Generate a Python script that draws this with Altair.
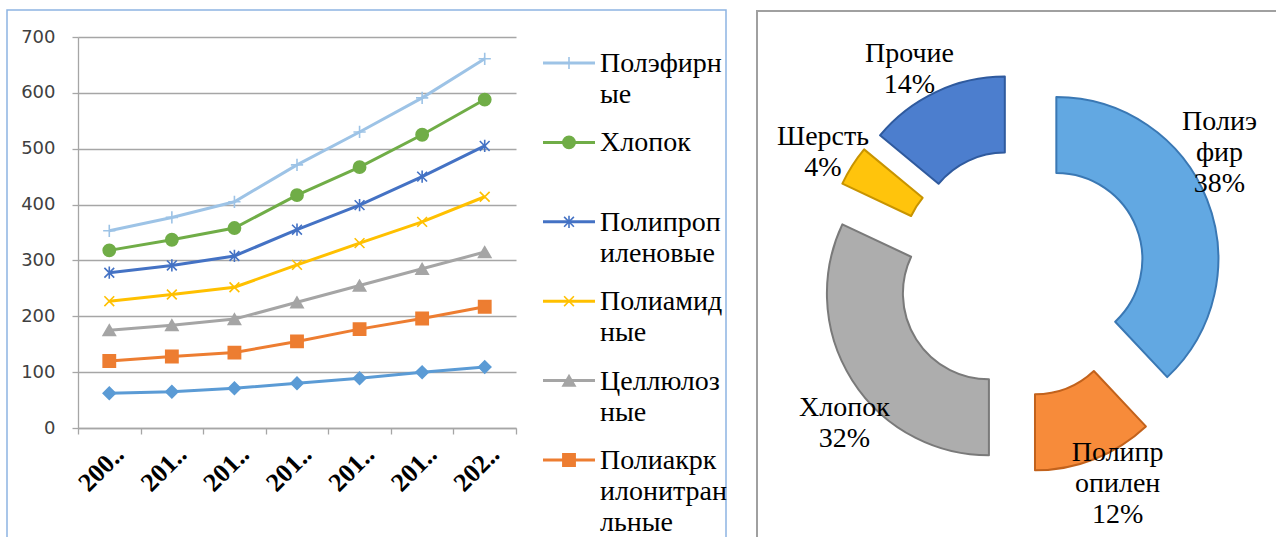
import altair as alt
import pandas as pd

# ---------------- data ----------------
years = ["2008", "2010", "2012", "2014", "2016", "2018", "2020"]

series_names = ["Полэфирные", "Хлопок", "Полипропиленовые", "Полиамидные",
                "Целлюлозные", "Полиакркилонитранльные", "Шерстяные"]
legend_labels = ["Полэфирн\nые", "Хлопок", "Полипроп\nиленовые", "Полиамид\nные",
                 "Целлюлоз\nные", "Полиакрк\nилонитран\nльные"]

polyester = [353, 377, 405, 471, 530, 591, 661]
cotton = [318, 337, 358, 417, 467, 525, 588]
polypropylene = [278, 291, 308, 355, 399, 450, 505]
polyamide = [227, 239, 252, 292, 331, 369, 414]
cellulose = [175, 184, 195, 225, 255, 285, 315]
polyacryl = [120, 128, 135, 155, 177, 196, 217]
wool = [62, 65, 71, 80, 89, 100, 109]
series_values = [polyester, cotton, polypropylene, polyamide, cellulose, polyacryl, wool]

series_colors = ["#9DC3E6", "#70AD47", "#4472C4", "#FFC000", "#A5A5A5", "#ED7D31", "#5B9BD5"]
PLUS = "M-1,0L1,0M0,-1L0,1"
XMARK = "M-0.8,-0.8L0.8,0.8M-0.8,0.8L0.8,-0.8"
STAR = "M-0.8,-0.8L0.8,0.8M-0.8,0.8L0.8,-0.8M0,-1L0,1"
series_shapes = [PLUS, "circle", STAR, XMARK, "triangle-up", "square", "diamond"]

pie_names = ["Полиэфир", "Полипропилен", "Хлопок", "Шерсть", "Прочие"]
pie_wrapped = ["Полиэ\nфир", "Полипр\nопилен", "Хлопок", "Шерсть", "Прочие"]
pie_values = [38, 12, 32, 4, 14]
pie_colors = ["#62A8E2", "#F78B3A", "#ADADAD", "#FFC40C", "#4C7ECE"]
pie_edges = ["#3A78B4", "#C2621C", "#7A7A7A", "#C89400", "#2F5A9E"]

# ---------------- tables ----------------
line_df = pd.DataFrame([
    {"year": y, "series": s, "value": v}
    for s, vals in zip(series_names, series_values)
    for y, v in zip(years, vals)
])
# legend rows that fit in the panel (the last entry falls below the visible area)
leg_df = pd.DataFrame({"series": series_names[:len(legend_labels)], "label": legend_labels})
pie_labels_txt = [w + "\n" + f"{v}%" for w, v in zip(pie_wrapped, pie_values)]
pie_df = pd.DataFrame({
    "order": list(range(len(pie_names))),
    "name": pie_names,
    "value": pie_values,
    "label": pie_labels_txt,
    "nlines": [t.count("\n") + 1 for t in pie_labels_txt],
})
one = pd.DataFrame({"k": [0]})

GRAY = "#A6A6A6"
SERIF = "Liberation Serif"
LH = 31
FS = 28

color_enc = alt.Color("series:N", scale=alt.Scale(domain=series_names, range=series_colors), legend=None)
stroke_enc = alt.Stroke("series:N", scale=alt.Scale(domain=series_names, range=series_colors), legend=None)
shape_enc = alt.Shape("series:N", scale=alt.Scale(domain=series_names, range=series_shapes), legend=None)

x_enc = alt.X(
    "year:N", sort=years, title=None,
    scale=alt.Scale(type="band", paddingInner=0, paddingOuter=0),
    axis=alt.Axis(
        tickBand="extent", grid=False, labelAngle=-45, labelAlign="right",
        labelBaseline="middle", labelFont=SERIF, labelFontSize=26,
        labelFontWeight="bold", labelColor="black", labelOverlap=False,
        labelExpr="datum.label ? substring(datum.label, 0, 3) + '..' : ''",
        labelPadding=16, labelOffset=10, tickSize=6, tickColor=GRAY,
        tickWidth=1.3, domainColor=GRAY, domainWidth=1.3,
    ),
)
y_enc = alt.Y(
    "value:Q", title=None,
    scale=alt.Scale(domain=[0, 700], nice=False),
    axis=alt.Axis(
        values=list(range(0, 701, 100)), grid=True, gridColor=GRAY, gridWidth=1.3,
        labelFont="DejaVu Sans", labelFontSize=18, labelColor="#404040",
        labelPadding=17, tickSize=6, tickColor=GRAY, tickWidth=1.3,
        domainColor=GRAY, domainWidth=1.3,
    ),
)

lines = alt.Chart(line_df).mark_line(strokeWidth=3).encode(
    x=x_enc, y=y_enc, color=color_enc, detail="series:N"
)
points = alt.Chart(line_df).mark_point(filled=True, size=150, strokeWidth=1.6, opacity=1).encode(
    x=x_enc, y=y_enc, color=color_enc, stroke=stroke_enc, shape=shape_enc,
)
line_chart = alt.layer(lines, points)

# ---------------- legend ----------------
leg_y = alt.Y("series:N", sort=series_names, axis=None,
              scale=alt.Scale(type="point", domain=series_names, range=[26, 26 + 6 * 79.4], padding=0))
leg_line = alt.Chart(leg_df).mark_rule(strokeWidth=3).encode(
    x=alt.value(465), x2=alt.value(517), y=leg_y, color=color_enc
)
leg_pt = alt.Chart(leg_df).mark_point(filled=True, size=150, strokeWidth=1.6, opacity=1).encode(
    x=alt.value(491), y=leg_y, color=color_enc, stroke=stroke_enc, shape=shape_enc
)
leg_txt = alt.Chart(leg_df).mark_text(
    align="left", baseline="alphabetic", dy=9, font=SERIF, fontSize=FS,
    lineBreak="\n", lineHeight=LH, color="black"
).encode(x=alt.value(522), y=leg_y, text="label:N")

# ---------------- donut ----------------
CX, CY, D, RL = 943, 236, 38, 232
pie_base = alt.Chart(pie_df).transform_joinaggregate(
    total="sum(value)"
).transform_window(
    cum="sum(value)", sort=[alt.SortField("order")], frame=[None, 0]
).transform_calculate(
    t1="2*PI*datum.cum/datum.total",
    t0="2*PI*(datum.cum-datum.value)/datum.total",
).transform_calculate(
    mid="(datum.t0+datum.t1)/2",
    la="datum.t0+0.43*(datum.t1-datum.t0)",
).transform_calculate(
    sx=f"{CX}+{D}*sin(datum.mid)",
    sy=f"{CY}-{D}*cos(datum.mid)",
    lx=f"{CX}+{RL}*sin(datum.la)",
    ly=f"{CY}-{RL}*cos(datum.la)-(datum.nlines-1)*{LH}/2",
)
arcs = pie_base.mark_arc(outerRadius=162, innerRadius=86, strokeWidth=2, strokeJoin="round").encode(
    x=alt.X("sx:Q", scale=None, axis=None),
    y=alt.Y("sy:Q", scale=None, axis=None),
    theta=alt.Theta("t0:Q", scale=None, stack=None),
    theta2="t1:Q",
    color=alt.Color("name:N", scale=alt.Scale(domain=pie_names, range=pie_colors), legend=None),
    stroke=alt.Stroke("name:N", scale=alt.Scale(domain=pie_names, range=pie_edges), legend=None),
)
pie_labels = pie_base.mark_text(
    align="center", baseline="middle", font=SERIF, fontSize=FS,
    lineBreak="\n", lineHeight=LH, color="black"
).encode(
    x=alt.X("lx:Q", scale=None, axis=None),
    y=alt.Y("ly:Q", scale=None, axis=None),
    text="label:N",
)

# ---------------- panel frames ----------------
left_frame = alt.Chart(one).mark_rect(fillOpacity=0, stroke="#8DB4E2", strokeWidth=1.5).encode(
    x=alt.value(-71), x2=alt.value(648), y=alt.value(-27), y2=alt.value(560)
)
right_frame = alt.Chart(one).mark_rect(fillOpacity=0, stroke="#A0A0A0", strokeWidth=2).encode(
    x=alt.value(679), x2=alt.value(1220), y=alt.value(-26), y2=alt.value(560)
)

chart = alt.layer(
    left_frame, right_frame, line_chart, leg_line, leg_pt, leg_txt, arcs, pie_labels
).resolve_scale(
    x="independent", y="independent", color="independent",
    stroke="independent", shape="independent"
).properties(
    width=438, height=391,
    padding={"left": 78, "top": 37, "right": 760, "bottom": 109},
    autosize=alt.AutoSizeParams(type="none"),
    background="white",
).configure_view(stroke=None)

chart.save("out.html", embed_options={"renderer": "svg", "actions": False})
